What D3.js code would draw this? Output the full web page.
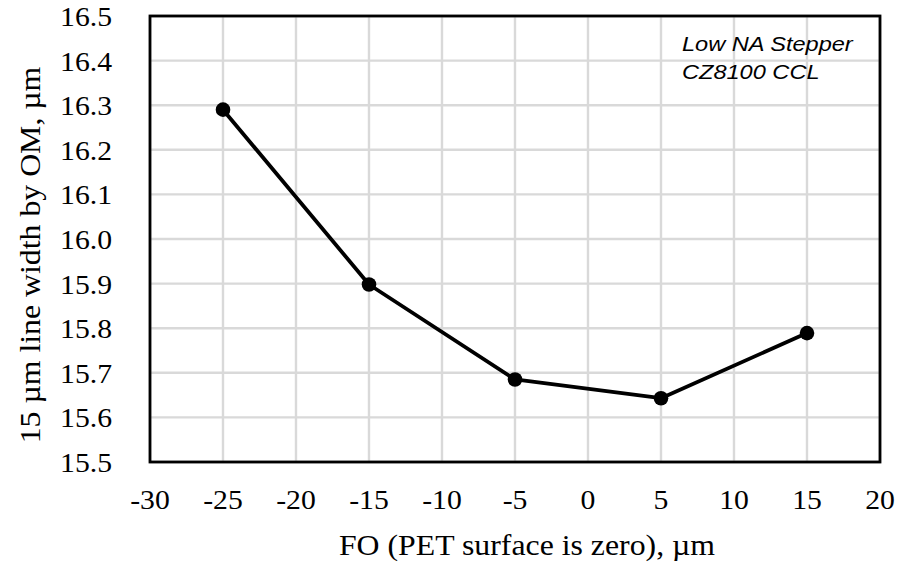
<!DOCTYPE html>
<html>
<head>
<meta charset="utf-8">
<script src="https://cdn.jsdelivr.net/npm/d3@7"></script>
<style>
  body { margin: 0; background: #fff; }
  svg { display: block; }
</style>
</head>
<body>
<svg id="chart"></svg>
<script>
//
// Data
//
var focusOffsets = [-25, -15, -5, 5, 15]
var lineWidths = [16.29, 15.898, 15.685, 15.643, 15.789]
var xTicks = [-30, -25, -20, -15, -10, -5, 0, 5, 10, 15, 20]
var yTicks = [15.5, 15.6, 15.7, 15.8, 15.9, 16.0, 16.1, 16.2, 16.3, 16.4, 16.5]
var noteLines = ['Low NA Stepper', 'CZ8100 CCL']
var xTitle = 'FO (PET surface is zero), \u00b5m'
var yTitle = '15 \u00b5m line width by OM, \u00b5m'

//
// Layout
//
var width = 897, height = 563
var plot = { left: 150, right: 880, top: 16, bottom: 462 }
var serif = '"Liberation Serif", "Times New Roman", serif'
var sans = '"Liberation Sans", Arial, sans-serif'
var colorGrid = '#d9d9d9'

var svg = d3.select('#chart').attr('width', width).attr('height', height)

var x = d3.scaleLinear().domain([-30, 20]).range([plot.left, plot.right])
var y = d3.scaleLinear().domain([15.5, 16.5]).range([plot.bottom, plot.top])

// text drawn slightly wider than the font, like the stretched original
function label(g, px, py, str, size, family, anchor, sx, rot) {
  return g.append('text')
    .attr('transform', 'translate(' + px + ',' + py + ')' + (rot ? ' rotate(' + rot + ')' : '') + ' scale(' + sx + ',1)')
    .attr('text-anchor', anchor)
    .style('font-family', family)
    .style('font-size', size + 'px')
    .attr('fill', '#000')
    .text(str)
}

// grid
var grid = svg.append('g')
grid.selectAll('line.v')
  .data(xTicks)
  .enter().append('line')
  .attr('x1', function(d) { return x(d) }).attr('x2', function(d) { return x(d) })
  .attr('y1', plot.top).attr('y2', plot.bottom)
  .attr('stroke', colorGrid).attr('stroke-width', 2.4)
grid.selectAll('line.h')
  .data(yTicks)
  .enter().append('line')
  .attr('x1', plot.left).attr('x2', plot.right)
  .attr('y1', function(d) { return y(d) }).attr('y2', function(d) { return y(d) })
  .attr('stroke', colorGrid).attr('stroke-width', 2.4)

// frame
svg.append('rect')
  .attr('x', plot.left).attr('y', plot.top)
  .attr('width', plot.right - plot.left).attr('height', plot.bottom - plot.top)
  .attr('fill', 'none').attr('stroke', '#000').attr('stroke-width', 2.8)

// tick labels
var ticks = svg.append('g')
xTicks.forEach(function(d) {
  label(ticks, x(d), 509, d, 27, serif, 'middle', 1.1)
})
yTicks.forEach(function(d) {
  label(ticks, 112, y(d) + 10, d.toFixed(1), 27, serif, 'end', 1.1)
})

// axis titles
label(svg, 527, 555, xTitle, 30, serif, 'middle', 1.06)
label(svg, 40, 255, yTitle, 30, serif, 'middle', 1.06, -90)

// series
var pts = focusOffsets.map(function(d, i) { return [d, lineWidths[i]] })
var line = d3.line()
  .x(function(d) { return x(d[0]) })
  .y(function(d) { return y(d[1]) })

svg.append('path')
  .datum(pts)
  .attr('d', line)
  .attr('fill', 'none')
  .attr('stroke', '#000')
  .attr('stroke-width', 3.8)
  .attr('stroke-linejoin', 'round')

svg.selectAll('circle.pt')
  .data(pts)
  .enter().append('circle')
  .attr('cx', function(d) { return x(d[0]) })
  .attr('cy', function(d) { return y(d[1]) })
  .attr('r', 7.3)
  .attr('fill', '#000')

// note
var note = svg.append('g').style('font-style', 'italic')
noteLines.forEach(function(s, i) {
  label(note, 682, 51 + i * 28, s, 20.5, sans, 'start', 1.15)
})
</script>
</body>
</html>
